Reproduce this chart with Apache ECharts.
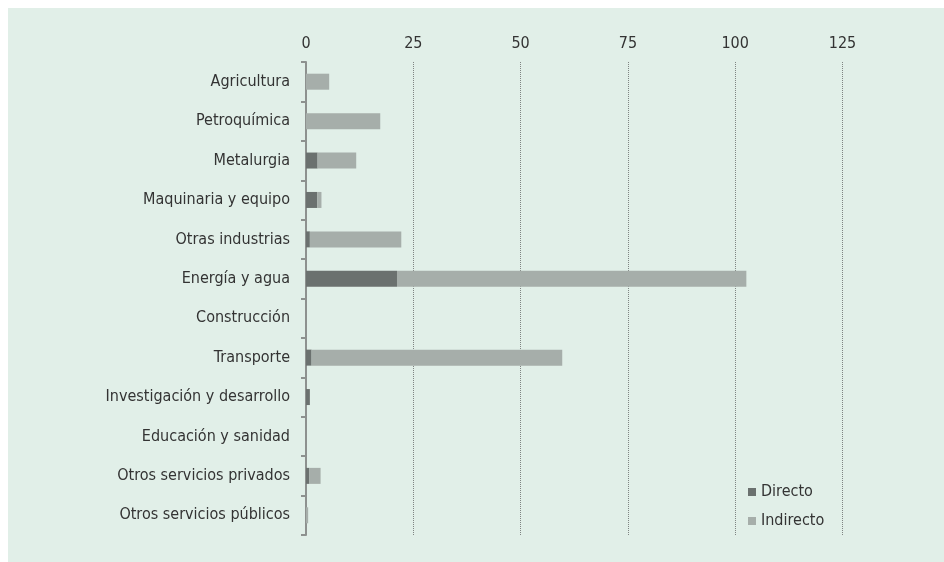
<!DOCTYPE html>
<html>
<head>
<meta charset="utf-8">
<script src="https://cdn.jsdelivr.net/npm/echarts@6/dist/echarts.min.js"></script>
<style>
  html, body { margin: 0; padding: 0; background: #ffffff; }
  #chart { width: 944px; height: 562px; }
</style>
</head>
<body>
<div id="chart"></div>
<script>
// categorías (de arriba a abajo)
const categories = [
  'Agricultura',
  'Petroquímica',
  'Metalurgia',
  'Maquinaria y equipo',
  'Otras industrias',
  'Energía y agua',
  'Construcción',
  'Transporte',
  'Investigación y desarrollo',
  'Educación y sanidad',
  'Otros servicios privados',
  'Otros servicios públicos'
]
// valores
const directo = [0, 0, 2.7, 2.6, 0.9, 21.2, 0, 1.3, 0.9, 0, 0.8, 0]
const indirecto = [5.4, 17.3, 9.0, 1.0, 21.3, 81.4, 0, 58.4, 0, 0, 2.6, 0.5]
const xTicks = [0, 25, 50, 75, 100, 125]

const font = '"DejaVu Sans Condensed", "Liberation Sans Narrow", sans-serif'

let mycharts = echarts.init(document.getElementById('chart'))
mycharts.setOption({
  animation: false,
  graphic: [
    {
      type: 'rect',
      z: -10,
      shape: { x: 8, y: 8, width: 936, height: 554 },
      style: { fill: '#e1efe8' }
    }
  ],
  grid: {
    left: 306,
    right: 101.5,
    top: 62,
    bottom: 27
  },
  legend: {
    orient: 'vertical',
    left: 743,
    top: 479,
    itemWidth: 8,
    itemHeight: 8,
    itemGap: 13,
    icon: 'rect',
    textStyle: { fontFamily: font, fontSize: 16, color: '#333' },
    data: ['Directo', 'Indirecto']
  },
  xAxis: {
    type: 'value',
    position: 'top',
    min: xTicks[0],
    max: xTicks[xTicks.length - 1],
    interval: 25,
    axisLine: { show: false },
    axisTick: { show: false },
    axisLabel: {
      margin: 10,
      fontFamily: font,
      fontSize: 16,
      color: '#333'
    },
    splitLine: {
      show: true,
      lineStyle: { type: [1, 1], color: '#7f8482', width: 1 }
    }
  },
  yAxis: {
    type: 'category',
    inverse: true,
    data: categories,
    axisLine: { show: true, lineStyle: { color: '#8d918f', width: 2 } },
    axisTick: { show: true, length: 5, lineStyle: { color: '#8d918f', width: 2 } },
    axisLabel: {
      margin: 16,
      fontFamily: font,
      fontSize: 16,
      color: '#333'
    },
    splitLine: { show: false }
  },
  series: [
    {
      name: 'Directo',
      type: 'bar',
      stack: 'total',
      barWidth: 16,
      data: directo,
      itemStyle: { color: '#6b716f' }
    },
    {
      name: 'Indirecto',
      type: 'bar',
      stack: 'total',
      barWidth: 16,
      data: indirecto,
      itemStyle: { color: '#a6aeaa' }
    }
  ]
})
</script>
</body>
</html>
